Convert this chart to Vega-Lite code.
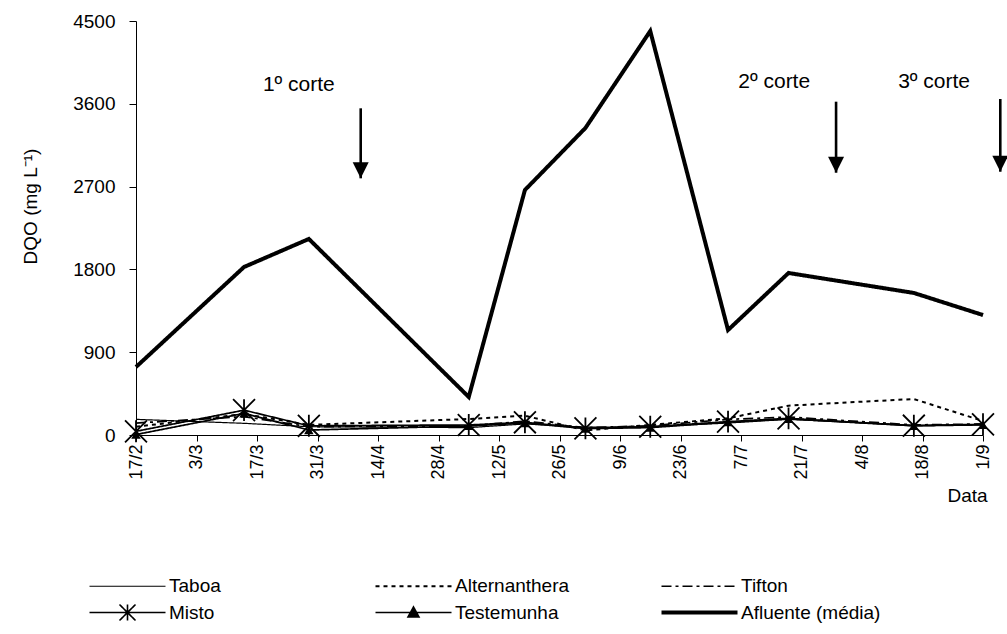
{
  "$schema": "https://vega.github.io/schema/vega-lite/v6.json",
  "width": 847,
  "height": 414,
  "autosize": {"type": "none"},
  "padding": {"left": 136, "top": 21, "right": 24, "bottom": 199},
  "background": "white",
  "config": {
    "view": {"stroke": null},
    "font": "Liberation Sans",
    "axis": {
      "domainColor": "black", "tickColor": "black", "labelColor": "black", "titleColor": "black",
      "grid": false, "labelFont": "Liberation Sans", "titleFont": "Liberation Sans",
      "labelFontSize": 18, "titleFontSize": 19, "titleFontWeight": "normal",
      "domainWidth": 1, "tickWidth": 1
    }
  },
  "datasets": {
    "series": [
      {"serie": "Taboa", "data": "2010/02/17", "dqo": 170},
      {"serie": "Taboa", "data": "2010/03/14", "dqo": 127},
      {"serie": "Taboa", "data": "2010/03/29", "dqo": 90},
      {"serie": "Taboa", "data": "2010/05/05", "dqo": 80},
      {"serie": "Taboa", "data": "2010/05/18", "dqo": 120},
      {"serie": "Taboa", "data": "2010/06/01", "dqo": 85},
      {"serie": "Taboa", "data": "2010/06/16", "dqo": 90},
      {"serie": "Taboa", "data": "2010/07/04", "dqo": 130},
      {"serie": "Taboa", "data": "2010/07/18", "dqo": 170},
      {"serie": "Taboa", "data": "2010/08/16", "dqo": 105},
      {"serie": "Taboa", "data": "2010/09/01", "dqo": 110},
      {"serie": "Alternanthera", "data": "2010/02/17", "dqo": 90},
      {"serie": "Alternanthera", "data": "2010/03/14", "dqo": 228},
      {"serie": "Alternanthera", "data": "2010/03/29", "dqo": 110},
      {"serie": "Alternanthera", "data": "2010/05/05", "dqo": 174},
      {"serie": "Alternanthera", "data": "2010/05/18", "dqo": 210},
      {"serie": "Alternanthera", "data": "2010/06/01", "dqo": 50},
      {"serie": "Alternanthera", "data": "2010/06/16", "dqo": 110},
      {"serie": "Alternanthera", "data": "2010/07/04", "dqo": 181},
      {"serie": "Alternanthera", "data": "2010/07/18", "dqo": 319},
      {"serie": "Alternanthera", "data": "2010/08/01", "dqo": 355},
      {"serie": "Alternanthera", "data": "2010/08/16", "dqo": 391},
      {"serie": "Alternanthera", "data": "2010/09/01", "dqo": 152},
      {"serie": "Tifton", "data": "2010/02/17", "dqo": 130},
      {"serie": "Tifton", "data": "2010/03/14", "dqo": 200},
      {"serie": "Tifton", "data": "2010/03/29", "dqo": 90},
      {"serie": "Tifton", "data": "2010/05/05", "dqo": 100},
      {"serie": "Tifton", "data": "2010/05/18", "dqo": 150},
      {"serie": "Tifton", "data": "2010/06/01", "dqo": 80},
      {"serie": "Tifton", "data": "2010/06/16", "dqo": 100},
      {"serie": "Tifton", "data": "2010/07/04", "dqo": 170},
      {"serie": "Tifton", "data": "2010/07/18", "dqo": 195},
      {"serie": "Tifton", "data": "2010/08/16", "dqo": 110},
      {"serie": "Tifton", "data": "2010/09/01", "dqo": 120},
      {"serie": "Misto", "data": "2010/02/17", "dqo": 40},
      {"serie": "Misto", "data": "2010/03/14", "dqo": 270},
      {"serie": "Misto", "data": "2010/03/29", "dqo": 100},
      {"serie": "Misto", "data": "2010/05/05", "dqo": 109},
      {"serie": "Misto", "data": "2010/05/18", "dqo": 138},
      {"serie": "Misto", "data": "2010/06/01", "dqo": 72},
      {"serie": "Misto", "data": "2010/06/16", "dqo": 90},
      {"serie": "Misto", "data": "2010/07/04", "dqo": 145},
      {"serie": "Misto", "data": "2010/07/18", "dqo": 181},
      {"serie": "Misto", "data": "2010/08/16", "dqo": 101},
      {"serie": "Misto", "data": "2010/09/01", "dqo": 116},
      {"serie": "Testemunha", "data": "2010/02/17", "dqo": 5},
      {"serie": "Testemunha", "data": "2010/03/14", "dqo": 235},
      {"serie": "Testemunha", "data": "2010/03/29", "dqo": 54},
      {"serie": "Testemunha", "data": "2010/05/05", "dqo": 98},
      {"serie": "Testemunha", "data": "2010/05/18", "dqo": 130},
      {"serie": "Testemunha", "data": "2010/06/01", "dqo": 70},
      {"serie": "Testemunha", "data": "2010/06/16", "dqo": 80},
      {"serie": "Testemunha", "data": "2010/07/04", "dqo": 140},
      {"serie": "Testemunha", "data": "2010/07/18", "dqo": 175},
      {"serie": "Testemunha", "data": "2010/08/16", "dqo": 100},
      {"serie": "Testemunha", "data": "2010/09/01", "dqo": 110},
      {"serie": "Afluente (média)", "data": "2010/02/17", "dqo": 739},
      {"serie": "Afluente (média)", "data": "2010/03/14", "dqo": 1826},
      {"serie": "Afluente (média)", "data": "2010/03/29", "dqo": 2131},
      {"serie": "Afluente (média)", "data": "2010/05/05", "dqo": 413},
      {"serie": "Afluente (média)", "data": "2010/05/18", "dqo": 2663},
      {"serie": "Afluente (média)", "data": "2010/06/01", "dqo": 3337},
      {"serie": "Afluente (média)", "data": "2010/06/16", "dqo": 4391},
      {"serie": "Afluente (média)", "data": "2010/07/04", "dqo": 1141},
      {"serie": "Afluente (média)", "data": "2010/07/18", "dqo": 1761},
      {"serie": "Afluente (média)", "data": "2010/08/16", "dqo": 1544},
      {"serie": "Afluente (média)", "data": "2010/09/01", "dqo": 1304}
    ],
    "cortes": [
      {"corte": "1º corte", "seta": "2010/04/10", "topo": 3551, "ponta": 2790, "rotulo": "2010/04/04", "ytexto": 3805},
      {"corte": "2º corte", "seta": "2010/07/29", "topo": 3623, "ponta": 2851, "rotulo": "2010/07/23", "ytexto": 3837},
      {"corte": "3º corte", "seta": "2010/09/05", "topo": 3652, "ponta": 2862, "rotulo": "2010/08/29", "ytexto": 3837}
    ]
  },
  "layer": [
    {
      "data": {"name": "series"},
      "mark": {"type": "line", "color": "black", "strokeCap": "butt", "strokeJoin": "miter"},
      "encoding": {
        "x": {
          "field": "data", "type": "temporal",
          "scale": {"domain": [{"year": 2010, "month": 2, "date": 17}, {"year": 2010, "month": 9, "date": 1}], "nice": false},
          "axis": {
            "values": [
              {"year": 2010, "month": 2, "date": 17}, {"year": 2010, "month": 3, "date": 3},
              {"year": 2010, "month": 3, "date": 17}, {"year": 2010, "month": 3, "date": 31},
              {"year": 2010, "month": 4, "date": 14}, {"year": 2010, "month": 4, "date": 28},
              {"year": 2010, "month": 5, "date": 12}, {"year": 2010, "month": 5, "date": 26},
              {"year": 2010, "month": 6, "date": 9}, {"year": 2010, "month": 6, "date": 23},
              {"year": 2010, "month": 7, "date": 7}, {"year": 2010, "month": 7, "date": 21},
              {"year": 2010, "month": 8, "date": 4}, {"year": 2010, "month": 8, "date": 18},
              {"year": 2010, "month": 9, "date": 1}
            ],
            "format": "%-d/%-m",
            "labelAngle": 270, "labelAlign": "right", "labelBaseline": "middle",
            "tickSize": 6, "labelPadding": 3, "labelFlush": false, "labelOverlap": false,
            "title": "Data", "titleX": 831, "titleY": 60, "titleAlign": "center", "titleBaseline": "middle"
          }
        },
        "y": {
          "field": "dqo", "type": "quantitative",
          "scale": {"domain": [0, 4500], "nice": false},
          "axis": {
            "values": [0, 900, 1800, 2700, 3600, 4500],
            "format": "d", "labelFontSize": 19,
            "tickSize": 7, "labelPadding": 14,
            "title": "DQO (mg L⁻¹)", "titleAngle": 270, "titleX": -106, "titleY": 185,
            "titleAlign": "center", "titleBaseline": "middle"
          }
        },
        "strokeDash": {
          "field": "serie", "type": "nominal",
          "scale": {
            "domain": ["Taboa", "Alternanthera", "Tifton", "Misto", "Testemunha", "Afluente (média)"],
            "range": [[1, 0], [4, 4], [10, 4, 3, 4], [1, 0], [1, 0], [1, 0]]
          },
          "legend": {
            "title": null, "orient": "none", "legendX": -48, "legendY": 555,
            "direction": "horizontal", "columns": 3, "gridAlign": "all",
            "columnPadding": 58, "rowPadding": 4, "padding": 0,
            "symbolSize": 100, "symbolOffset": 30, "labelOffset": 32,
            "labelFontSize": 19, "labelFont": "Liberation Sans", "labelColor": "black",
            "symbolStrokeColor": "black", "symbolType": "M-7.6,0L7.6,0",
            "encode": {
              "symbols": {
                "update": {
                  "shape": {"signal": "datum.label === 'Misto' ? 'M-7.6,0L7.6,0M0,-1.6L0,1.6M-1.6,-1.6L1.6,1.6M-1.6,1.6L1.6,-1.6' : datum.label === 'Testemunha' ? 'M-7.6,0L7.6,0M0,-1.1L1.1,0.9L-1.1,0.9Z' : 'M-7.6,0L7.6,0'"},
                  "strokeWidth": {"signal": "datum.label === 'Afluente (média)' ? 4 : datum.label === 'Taboa' ? 1.2 : datum.label === 'Alternanthera' ? 2 : 1.6"},
                  "fill": {"signal": "datum.label === 'Testemunha' ? 'black' : 'transparent'"},
                  "stroke": {"value": "black"}
                }
              }
            }
          }
        },
        "strokeWidth": {
          "condition": [
            {"test": "datum.serie === 'Afluente (média)'", "value": 4},
            {"test": "datum.serie === 'Taboa'", "value": 1.2},
            {"test": "datum.serie === 'Alternanthera'", "value": 2}
          ],
          "value": 1.7
        }
      }
    },
    {
      "data": {"name": "series"},
      "transform": [{"filter": "datum.serie === 'Misto'"}],
      "mark": {"type": "point", "shape": "M-1,-1L1,1M-1,1L1,-1M0,-1L0,1", "filled": false, "stroke": "black", "strokeWidth": 1.8, "size": 480, "opacity": 1},
      "encoding": {
        "x": {"field": "data", "type": "temporal"},
        "y": {"field": "dqo", "type": "quantitative"}
      }
    },
    {
      "data": {"name": "series"},
      "transform": [{"filter": "datum.serie === 'Testemunha'"}],
      "mark": {"type": "point", "shape": "triangle-up", "filled": true, "color": "black", "size": 90, "opacity": 1},
      "encoding": {
        "x": {"field": "data", "type": "temporal"},
        "y": {"field": "dqo", "type": "quantitative"}
      }
    },
    {
      "data": {"name": "cortes"},
      "mark": {"type": "rule", "color": "black", "strokeWidth": 2.6},
      "encoding": {
        "x": {"field": "seta", "type": "temporal"},
        "y": {"field": "topo", "type": "quantitative"},
        "y2": {"field": "ponta"}
      }
    },
    {
      "data": {"name": "cortes"},
      "mark": {"type": "point", "shape": "M-1,-2L1,-2L0,0Z", "filled": true, "color": "black", "size": 256, "opacity": 1},
      "encoding": {
        "x": {"field": "seta", "type": "temporal"},
        "y": {"field": "ponta", "type": "quantitative"}
      }
    },
    {
      "data": {"name": "cortes"},
      "mark": {"type": "text", "align": "right", "baseline": "middle", "fontSize": 21, "font": "Liberation Sans", "color": "black"},
      "encoding": {
        "x": {"field": "rotulo", "type": "temporal"},
        "y": {"field": "ytexto", "type": "quantitative"},
        "text": {"field": "corte"}
      }
    }
  ]
}
